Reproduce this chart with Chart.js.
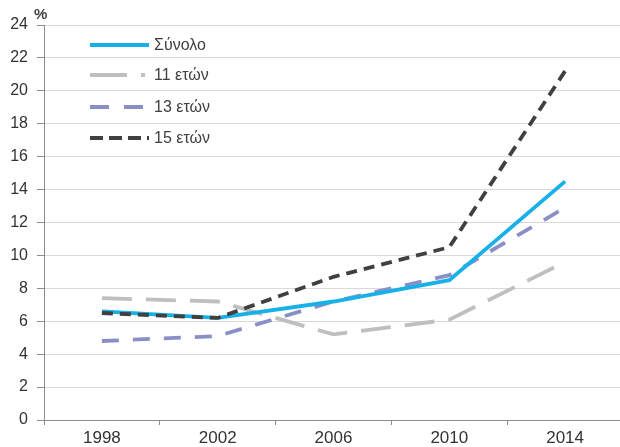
<!DOCTYPE html>
<html>
<head>
<meta charset="utf-8">
<script src="https://cdn.jsdelivr.net/npm/chart.js@4"></script>
<style>
    html, body { margin: 0; padding: 0; background: #fff; overflow: hidden; }
    #wrap { position: relative; width: 623px; height: 447px; }
</style>
</head>
<body>
<div id="wrap"><canvas id="ageChart"></canvas></div>
<script>
// values (%)
var years = ['1998', '2002', '2006', '2010', '2014'];
var total = [6.6, 6.2, 7.2, 8.5, 14.5];
var age11 = [7.4, 7.2, 5.2, 6.1, 9.6];
var age13 = [4.8, 5.1, 7.2, 8.8, 12.9];
var age15 = [6.5, 6.2, 8.7, 10.5, 21.2];
var seriesNames = ['Σύνολο', '11 ετών', '13 ετών', '15 ετών'];
var yTicks = [0, 2, 4, 6, 8, 10, 12, 14, 16, 18, 20, 22, 24];

var FONT = 'Liberation Sans, Arial, sans-serif';

// legend drawn inside the plot, top left, like the original
var insideLegend = {
    id: 'insideLegend',
    afterDraw: function (chart) {
        var ctx = chart.ctx;
        var rows = [45, 75, 107, 138];
        ctx.save();
        chart.data.datasets.forEach(function (ds, r) {
            var y = rows[r];
            ctx.beginPath();
            ctx.strokeStyle = ds.borderColor;
            ctx.lineWidth = 4;
            ctx.setLineDash(ds.legendDash || []);
            ctx.moveTo(90, y);
            ctx.lineTo(149, y);
            ctx.stroke();
            ctx.setLineDash([]);
            ctx.fillStyle = '#404040';
            ctx.font = '16px ' + FONT;
            ctx.textBaseline = 'middle';
            ctx.fillText(ds.label, 154, y + 1);
        });
        // unit mark at the top of the y axis
        ctx.fillStyle = '#404040';
        ctx.font = 'bold 15px ' + FONT;
        ctx.textBaseline = 'top';
        ctx.fillText('%', 34, 7);
        ctx.restore();
    }
};

var ctx = document.getElementById('ageChart').getContext('2d');
var chart = new Chart(ctx, {
    type: 'line',
    data: {
        labels: years,
        datasets: [{
            label: seriesNames[0],
            data: total,
            borderColor: '#17B0E8',
            borderWidth: 3.8,
            order: 1
        }, {
            label: seriesNames[1],
            data: age11,
            borderColor: '#BFBFBF',
            borderWidth: 3.8,
            borderDash: [30, 14],
            legendDash: [37, 14, 4, 100],
            order: 3
        }, {
            label: seriesNames[2],
            data: age13,
            borderColor: '#8A8FC6',
            borderWidth: 3.8,
            borderDash: [17, 14],
            legendDash: [19, 15],
            order: 2
        }, {
            label: seriesNames[3],
            data: age15,
            borderColor: '#404040',
            borderWidth: 3.8,
            borderDash: [11, 7],
            legendDash: [13, 6],
            order: 0
        }]
    },
    options: {
        responsive: true,
        maintainAspectRatio: false,
        animation: false,
        layout: { padding: { top: 25, left: 0, right: 0, bottom: 0 } },
        elements: {
            line: { tension: 0, fill: false, borderCapStyle: 'butt' },
            point: { radius: 0, hoverRadius: 0 }
        },
        plugins: {
            legend: { display: false },
            tooltip: { enabled: false }
        },
        scales: {
            x: {
                offset: true,
                grid: {
                    offset: true,
                    drawOnChartArea: false,
                    drawTicks: true,
                    tickLength: 5,
                    tickColor: '#8C8C8C'
                },
                border: { color: '#8C8C8C', width: 1 },
                ticks: {
                    color: '#333333',
                    padding: 3,
                    font: { family: FONT, size: 17 }
                },
                afterFit: function (scale) { scale.height = 27; }
            },
            y: {
                min: 0,
                max: 24,
                afterBuildTicks: function (scale) {
                    scale.ticks = yTicks.map(function (v) { return { value: v }; });
                },
                grid: {
                    color: '#D9D9D9',
                    tickColor: '#8C8C8C',
                    tickLength: 7,
                    lineWidth: 1
                },
                border: { color: '#8C8C8C', width: 1 },
                ticks: {
                    color: '#333333',
                    padding: 9,
                    font: { family: FONT, size: 16 }
                },
                afterFit: function (scale) { scale.width = 44; }
            }
        }
    },
    plugins: [insideLegend]
});
</script>
</body>
</html>
